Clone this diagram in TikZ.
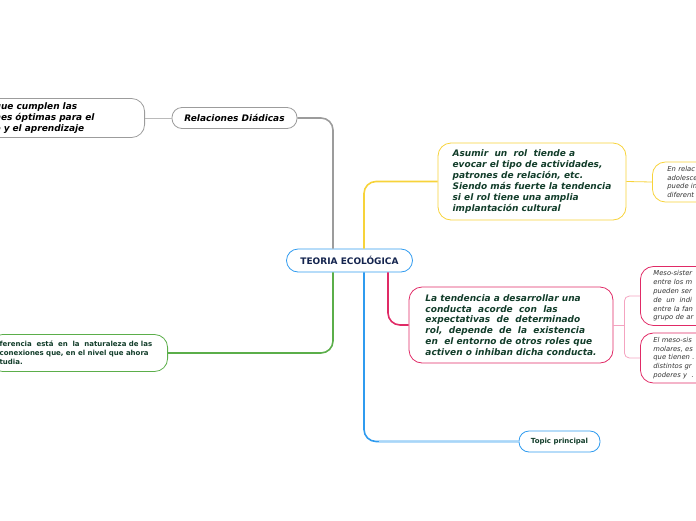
\documentclass[tikz,border=0pt]{standalone}
\usepackage{fontspec}
\setmainfont{DejaVu Sans}
\usetikzlibrary{positioning}
\definecolor{brgray}{HTML}{9C9C9C}
\definecolor{bryellow}{HTML}{F7D33A}
\definecolor{brgreen}{HTML}{5BAE4A}
\definecolor{brblue}{HTML}{2F9BEF}
\definecolor{brlblue}{HTML}{A8D6F8}
\definecolor{brpink}{HTML}{E02A66}
\definecolor{brlpink}{HTML}{F4A3C0}
\definecolor{txgreen}{HTML}{123D2A}
\definecolor{txnavy}{HTML}{14244E}
\definecolor{txgray}{HTML}{333333}

\begin{document}
\begin{tikzpicture}[x=1pt, y=-1pt,
  box/.style={draw, rounded corners=13pt, line width=0.8pt, align=left,
              text=txgreen},
  big/.style={box, font=\bfseries\itshape\fontsize{9}{10.9}\selectfont,
              inner xsep=14pt},
  small/.style={box, font=\itshape\fontsize{6.8}{8.8}\selectfont,
                text=txgray, inner xsep=13pt},
  pill/.style={draw, rounded corners=10pt, line width=0.8pt,
               minimum height=21pt},
  br/.style={line width=1.6pt, rounded corners=12pt},
  twig/.style={line width=0.8pt}
]
\useasboundingbox (0,0) rectangle (696,520);

\node[pill, draw=brblue, text=txnavy, minimum width=126pt, minimum height=23pt,
      rounded corners=11.5pt, font=\bfseries\fontsize{9}{10}\selectfont]
      (root) at (349.5,260.5) {TEORIA ECOLÓGICA};

% gray branch
\node[pill, draw=brgray, minimum width=125pt, text=black,
      font=\bfseries\itshape\fontsize{9}{10}\selectfont]
      (rel) at (234.5,118) {Relaciones Diádicas};
\node[big, draw=brgray, text=black, anchor=east, text width=138pt,
      minimum height=39pt, inner xsep=12pt]
      (cond) at (145,118) {que cumplen las\\nes óptimas para el\\o y el aprendizaje};

% green branch
\node[box, draw=brgreen, anchor=east, text width=158pt, minimum height=37pt,
      inner xsep=10pt, font=\bfseries\fontsize{7}{9.2}\selectfont]
      (dif) at (168,353) {ferencia~ está~ en~ la~ naturaleza de las\\
      conexiones que, en el nivel que ahora\\tudia.};

% yellow branch
\node[big, draw=bryellow, minimum width=188pt, minimum height=77pt]
      (rol) at (532,181.5) {Asumir~ un~ rol~ tiende a\\evocar el tipo de actividades,\\
      patrones de relación, etc.\\Siendo más fuerte la tendencia\\
      si el rol tiene una amplia\\implantación cultural};
\node[small, draw=bryellow, anchor=west, text width=80pt, minimum height=40pt,
      inner xsep=15pt]
      (adol) at (652,182) {En relac\\adolesce\\puede in\\diferent};

% pink branch
\node[big, draw=brpink, minimum width=204pt, minimum height=76pt]
      (tend) at (511,325) {La tendencia a desarrollar una\\conducta~ acorde~ con~ las\\
      expectativas~ de~ determinado\\rol,~ depende~ de~ la~ existencia\\
      en~ el entorno de otros roles que\\activen o inhiban dicha conducta.};
\node[small, draw=brpink, anchor=west, text width=80pt, minimum height=59pt]
      (meso) at (640,296) {Meso-sister\\entre los m\\pueden ser\\de~ un~ indi\\
      entre la fan\\grupo de ar};
\node[small, draw=brpink, anchor=west, text width=80pt, minimum height=50pt]
      (molar) at (640,358) {El meso-sis\\molares, es\\que tienen .\\distintos gr\\
      poderes y~ .};

% blue branch
\node[pill, draw=brblue, minimum width=81pt, text=txgreen,
      font=\bfseries\fontsize{7}{8}\selectfont]
      (tp) at (559.5,441.5) {Topic principal};

\draw[br, brgray]   ([xshift=-16.5pt]root.north) |- (rel.east);
\draw[twig, brgray!70] (rel.west) -- (cond.east);
\draw[br, bryellow] ([xshift=14.5pt]root.north) |- (rol.west);
\draw[twig, bryellow] (rol.east) -- (adol.west);
\draw[br, brgreen]  ([xshift=-16.5pt]root.south) |- (dif.east);
\draw[br, brblue]   ([xshift=14.5pt]root.south) |- (tp.west);
\draw[br, brlblue, line width=1.2pt] (tp.west) -- ++(-140pt,0);
\draw[br, brpink]   ([xshift=38.5pt]root.south) |- (tend.west);
\draw[twig, brlpink] (tend.east) -- ++(11pt,0) coordinate (fork);
\draw[twig, brlpink, rounded corners=5pt] (fork) |- (meso.west);
\draw[twig, brlpink, rounded corners=5pt] (fork) |- (molar.west);
\end{tikzpicture}
\end{document}
